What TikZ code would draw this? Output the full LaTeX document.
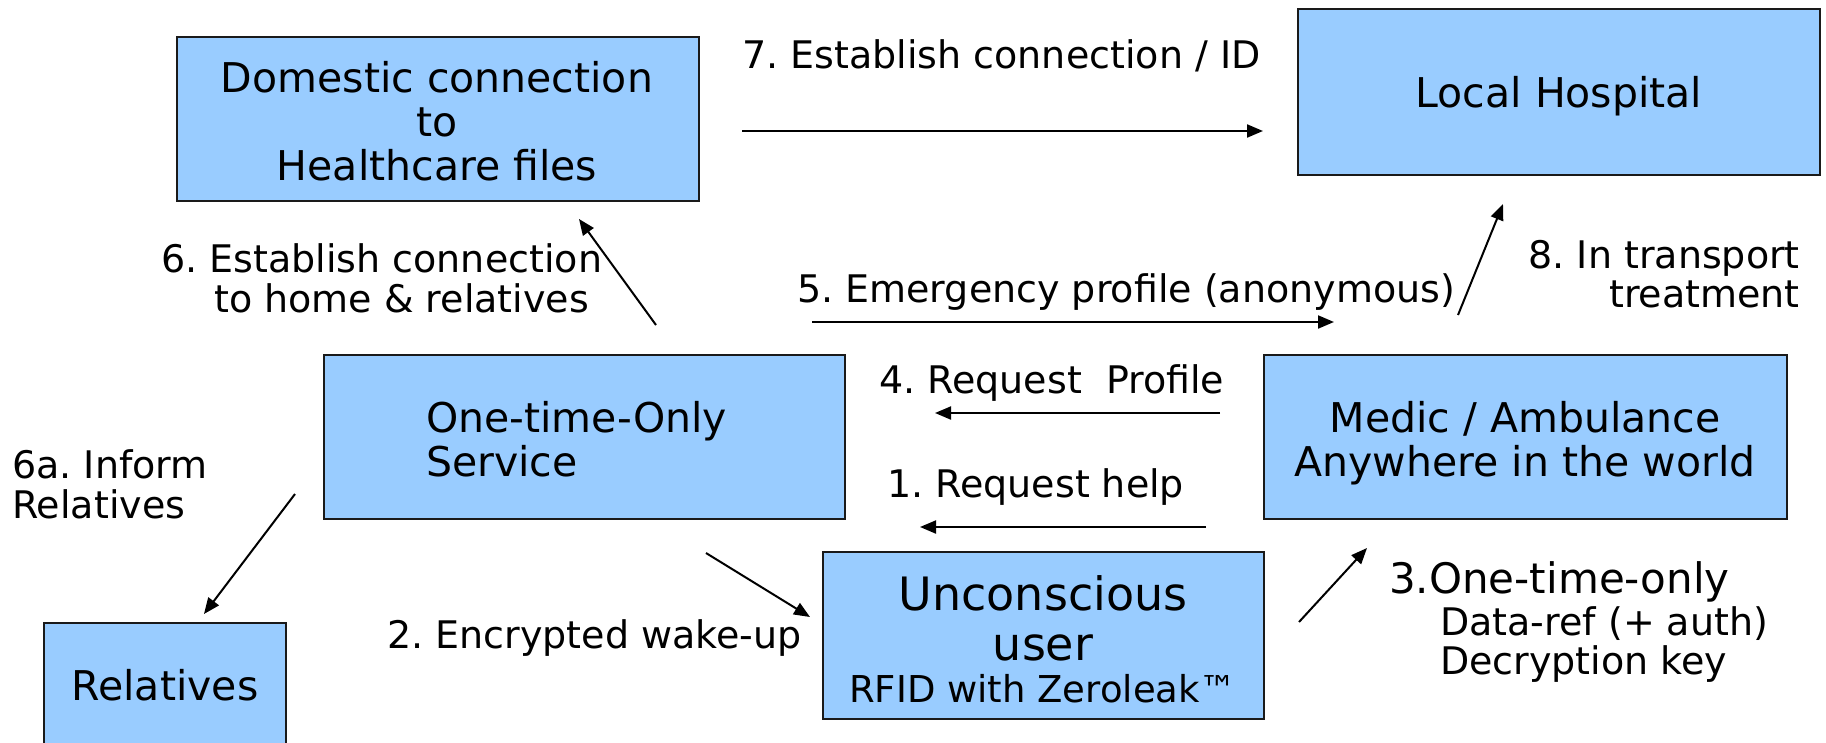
\documentclass[tikz,border=0pt]{standalone}
\usepackage{fontspec}
\setmainfont{DejaVu Sans}
\usetikzlibrary{arrows.meta}
\frenchspacing

\definecolor{boxblue}{HTML}{99CCFF}
\definecolor{edgegray}{HTML}{1A1A1A}

% rows of text whose baseline is the first row's baseline
\newcommand\txtrows[2]{\begin{tabular}[t]{@{}#1@{}}#2\end{tabular}}

\tikzset{
  box/.style={draw=edgegray, line width=2pt, fill=boxblue, inner sep=0pt},
  boxtext/.style={inner sep=0pt, font=\fontsize{41}{44}\selectfont},
  flowlabel/.style={inner sep=0pt, font=\fontsize{38}{39}\selectfont},
  flow/.style={line width=2pt, -{Triangle[length=16pt,width=13pt]}},
}

\begin{document}
\begin{tikzpicture}[x=1pt, y=-1pt]
\useasboundingbox (0,0) rectangle (1826,742);
\clip (0,0) rectangle (1826,742);

% boxes
\node[box, minimum width=522pt, minimum height=164pt] (dom)   at (438,119)   {};
\node[box, minimum width=522pt, minimum height=166pt] (hosp)  at (1559,92)   {};
\node[box, minimum width=521pt, minimum height=164pt] (svc)   at (584.5,437) {};
\node[box, minimum width=523pt, minimum height=164pt] (medic) at (1525.5,437){};
\node[box, minimum width=441pt, minimum height=167pt] (user)  at (1043.5,635.5) {};
\node[box, minimum width=242pt, minimum height=180pt] (rel)   at (165,713)   {};

% box texts
\node[boxtext, anchor=base] (dom-t) at (437,92)
  {\txtrows{c}{Domestic connection\\to\\Healthcare files}};
\node[boxtext, anchor=base] (hosp-t) at (1559,107) {Local Hospital};
\node[boxtext, anchor=base west] (svc-t) at (426,432)
  {\txtrows{l}{One-time-Only\\Service}};
\node[boxtext, anchor=base] (medic-t) at (1525,432)
  {\txtrows{c}{Medic / Ambulance\\Anywhere in the world}};
\node[inner sep=0pt, anchor=base, font=\fontsize{46}{50}\selectfont] (user-t) at (1043,610)
  {\txtrows{c}{Unconscious\\user\\[-8pt]{\fontsize{37}{42}\selectfont RFID with Zeroleak™}}};
\node[boxtext, anchor=base] (rel-t) at (165,700) {Relatives};

% step labels
\node[flowlabel, anchor=base west] (l7) at (742,68) {7. Establish connection / ID};
\node[flowlabel, anchor=base west] (l6) at (161,272)
  {\txtrows{l}{6. Establish connection\\\hspace*{53pt}to home \& relatives}};
\node[flowlabel, anchor=base west] (l5) at (797,302) {5. Emergency profile (anonymous)};
\node[flowlabel, anchor=base east] (l8) at (1800,268)
  {\txtrows{r}{8. In transport\\treatment}};
\node[flowlabel, anchor=base west] (l4) at (879,393) {4. Request\ \ Profile};
\node[flowlabel, anchor=base west] (l1) at (887,497) {1. Request help};
\node[flowlabel, anchor=base west] (l6a) at (12,478)
  {\txtrows{l}{6a. Inform\\Relatives}};
\node[flowlabel, anchor=base west] (l2) at (387,648) {2. Encrypted wake-up};
\node[flowlabel, anchor=base west, font=\fontsize{38}{40}\selectfont] (l3) at (1389,593)
  {\txtrows{l}{{\fontsize{42}{44}\selectfont 3.One-time-only}\\[2pt]
   \hspace*{51pt}Data-ref (+ auth)\\[-2pt]\hspace*{51pt}Decryption key}};

% arrow end points
\coordinate (a7s) at (742,131);   \coordinate (a7e) at (1263,131);
\coordinate (a6s) at (656,325);   \coordinate (a6e) at (579,219);
\coordinate (a5s) at (812,322);   \coordinate (a5e) at (1334,322);
\coordinate (a8s) at (1458,315);  \coordinate (a8e) at (1503,204);
\coordinate (a4s) at (1220,413);  \coordinate (a4e) at (935,413);
\coordinate (a1s) at (1206,527);  \coordinate (a1e) at (920,527);
\coordinate (a2s) at (706,553);   \coordinate (a2e) at (810,617);
\coordinate (a6as) at (295,494);  \coordinate (a6ae) at (204,614);
\coordinate (a3s) at (1299,622);  \coordinate (a3e) at (1367,548);

% arrows
\draw[flow] (a7s) -- (a7e);
\draw[flow] (a6s) -- (a6e);
\draw[flow] (a5s) -- (a5e);
\draw[flow] (a8s) -- (a8e);
\draw[flow] (a4s) -- (a4e);
\draw[flow] (a1s) -- (a1e);
\draw[flow] (a2s) -- (a2e);
\draw[flow] (a6as) -- (a6ae);
\draw[flow] (a3s) -- (a3e);
\end{tikzpicture}
\end{document}
